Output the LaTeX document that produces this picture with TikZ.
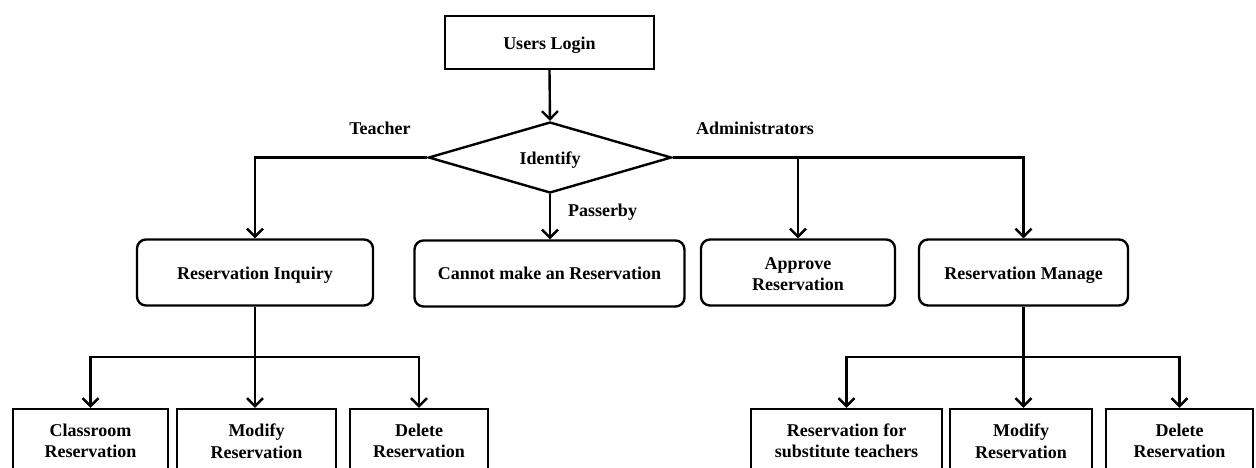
\documentclass[tikz,border=0pt]{standalone}
\usepackage{fontspec}
\setmainfont{Liberation Serif}
\usetikzlibrary{shapes.geometric,arrows.meta}
\begin{document}
\begin{tikzpicture}[x=1pt,y=-1pt,
  every node/.style={font=\bfseries\fontsize{18}{21.5}\selectfont, text=black, align=center, inner sep=0pt},
  sharpbox/.style={draw, line width=2.4pt, minimum height=53pt},
  roundbox/.style={draw, line width=2.4pt, rounded corners=9pt, minimum height=66pt},
  leafbox/.style={draw, line width=2.4pt, minimum height=64pt},
  decide/.style={draw, diamond, aspect=3.42, line width=2.4pt, minimum width=243pt, minimum height=71pt},
  lowtext/.style={text height=17.5pt, text depth=4pt},
  arr/.style={line width=2.4pt, -{Straight Barb[length=8pt,width=16pt,line width=2.4pt]}}
]
\clip (0,0) rectangle (1256,467);
\useasboundingbox (0,0) rectangle (1256,467);

\node[sharpbox, lowtext, minimum width=209pt] (login) at (549.5,42.5) {Users Login};
\node[decide, lowtext] (idf) at (550,157.5) {Identify};

\node[roundbox, lowtext, minimum width=236pt] (ri) at (255,272.5) {Reservation Inquiry};
\node[roundbox, minimum width=270pt] (cannot) at (549.5,273.5) {Cannot make an Reservation};
\node[roundbox, text height=37pt, minimum width=194pt] (appr) at (798,272.5) {Approve\\Reservation};
\node[roundbox, lowtext, minimum width=209pt] (rm) at (1023.5,272.5) {Reservation Manage};

\node[leafbox, minimum width=155pt] (cls) at (90.5,441) {Classroom\\Reservation};
\node[leafbox, minimum width=159pt] (mod1) at (256.5,441) {Modify\\Reservation};
\node[leafbox, minimum width=138pt] (del1) at (419,441) {Delete\\Reservation};

\node[leafbox, minimum width=191pt] (sub) at (846.5,441) {Reservation for\\substitute teachers};
\node[leafbox, minimum width=142pt] (mod2) at (1021,441) {Modify\\Reservation};
\node[leafbox, minimum width=147pt] (del2) at (1179.5,441) {Delete\\Reservation};

\node (lt) at (380,128) {Teacher};
\node (la) at (755,128) {Administrators};
\node (lp) at (602.5,212) {Passerby};

\draw[arr] (login.south) -- (idf.north);
\draw[arr] (idf.west) -| (ri.north);
\draw[arr] (idf.south) -- (idf.south |- cannot.north);
\draw[arr] (idf.east) -| (appr.north);
\draw[arr] (idf.east) -| (rm.north);

\coordinate (b1) at (255,357);
\draw[arr] (ri.south) -- (ri.south |- mod1.north);
\draw[arr] (b1) -| (cls.north);
\draw[arr] (b1) -| (del1.north);

\coordinate (b2) at (1023.5,357);
\draw[arr] (rm.south) -- (rm.south |- mod2.north);
\draw[arr] (b2) -| (sub.north);
\draw[arr] (b2) -| (del2.north);
\end{tikzpicture}
\end{document}
